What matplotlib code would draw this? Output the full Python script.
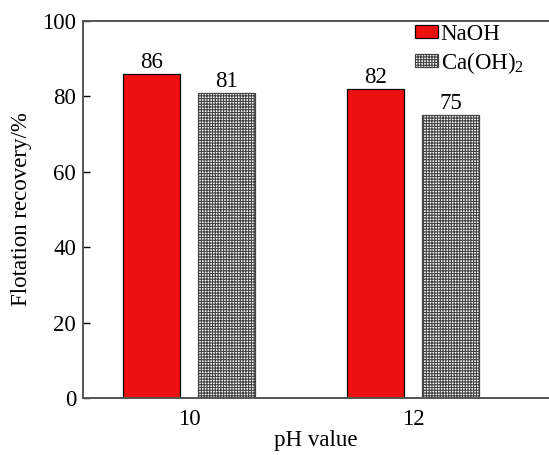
import numpy as np
import matplotlib
matplotlib.use("Agg")
import matplotlib.pyplot as plt

# данные
ph_labels = ["10", "12"]
naoh = [86, 82]
caoh2 = [81, 75]
series_names = ["NaOH", "Ca(OH)$_2$"]

plt.rcParams["font.family"] = ["Liberation Serif", "DejaVu Serif"]
plt.rcParams["mathtext.fontset"] = "custom"
plt.rcParams["mathtext.rm"] = "Liberation Serif"
plt.rcParams["hatch.linewidth"] = 0.8

fs = 16.5

fig = plt.figure(figsize=(5.49, 4.55), dpi=100)
ax = fig.add_axes([83 / 549, 1 - 398 / 455, 1 - 83 / 549, 377 / 455])

x = np.arange(len(ph_labels))
w = 0.255
off = 0.167

b1 = ax.bar(x - off, naoh, w, color="#EE1010", edgecolor="black", linewidth=0.9, label=series_names[0])
b2 = ax.bar(x + off, caoh2, w, color="white", edgecolor="#444444", hatch="++++++",
            linewidth=0.9, label=series_names[1])

for bars, vals in [(b1, naoh), (b2, caoh2)]:
    for r, v in zip(bars, vals):
        ax.text(r.get_x() + r.get_width() / 2, v + 0.2, str(v), ha="center", va="bottom", fontsize=fs)

ax.set_xlim(-0.473, 1.607)
ax.set_ylim(0, 100)
ax.set_yticks([0, 20, 40, 60, 80, 100])
ax.set_xticks(x)
ax.set_xticklabels(ph_labels)
ax.tick_params(axis="y", direction="in", length=5, width=1, pad=5, labelsize=fs)
ax.tick_params(axis="x", length=0, pad=8, labelsize=fs)
ax.set_xlabel("pH value", fontsize=fs, labelpad=0)
ax.set_ylabel("Flotation recovery/%", fontsize=fs, labelpad=7)

for s in ax.spines.values():
    s.set_color("#555555")
    s.set_linewidth(1.4)
ax.spines["right"].set_visible(False)

ax.legend(loc="upper left", bbox_to_anchor=(415 / 549, 1 - 24 / 455), bbox_transform=fig.transFigure,
          frameon=False, fontsize=fs, borderpad=0, borderaxespad=0, handlelength=1.0,
          handleheight=0.5, handletextpad=0.12, labelspacing=0.2)

fig.savefig("out.png", dpi=100)
